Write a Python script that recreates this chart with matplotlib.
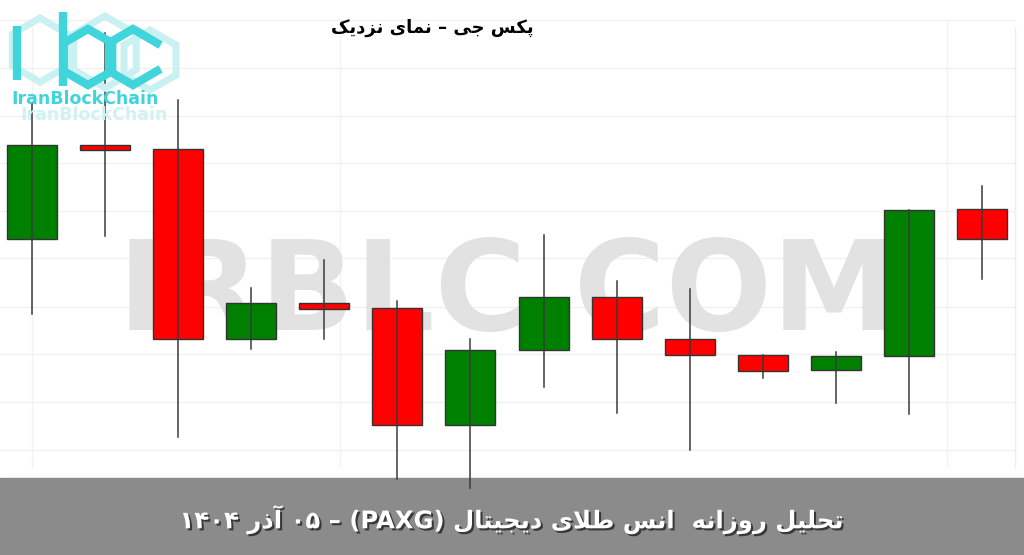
"""پکس جی – نمای نزدیک: روزانه PAXG candles, IRBLC style."""
import matplotlib
matplotlib.use("Agg")
import matplotlib.pyplot as plt
from matplotlib.patches import Rectangle, RegularPolygon
import matplotlib.patheffects as pe

# OHLC (USD), one candle per day
opens = [4140.25, 4163.75, 4162.75, 4115.25, 4124.25, 4123.0, 4093.75,
         4112.5, 4125.75, 4115.25, 4111.25, 4107.5, 4111.0, 4147.75]
highs = [4174.25, 4191.75, 4175.0, 4128.0, 4135.0, 4124.75, 4115.25,
         4141.25, 4129.75, 4127.75, 4111.25, 4112.0, 4147.5, 4153.5]
lows = [4121.5, 4141.0, 4090.75, 4112.75, 4115.25, 4080.25, 4078.0,
        4103.25, 4096.75, 4087.5, 4105.5, 4099.25, 4096.5, 4130.25]
closes = [4163.75, 4162.5, 4115.25, 4124.25, 4122.75, 4093.75, 4112.5,
          4125.75, 4115.25, 4111.25, 4107.25, 4111.0, 4147.5, 4140.25]

TITLE = "پکس جی – نمای نزدیک"
BANNER = "تحلیل روزانه  انس طلای دیجیتال (PAXG) – ۰۵ آذر ۱۴۰۴"
WATERMARK = "IRBLC.COM"
LOGO_TEXT = "IranBlockChain"

# --- minimal Persian shaping (matplotlib has no RTL / joining support) ---
# char: (isolated, final, initial, medial); 2-tuple = joins to the right only
FORMS = {
    "ا": ("\uFE8D", "\uFE8E"), "آ": ("\uFE81", "\uFE82"),
    "د": ("\uFEA9", "\uFEAA"), "ذ": ("\uFEAB", "\uFEAC"),
    "ر": ("\uFEAD", "\uFEAE"), "ز": ("\uFEAF", "\uFEB0"),
    "و": ("\uFEED", "\uFEEE"),
    "پ": ("\uFB56", "\uFB57", "\uFB58", "\uFB59"),
    "ت": ("\uFE95", "\uFE96", "\uFE97", "\uFE98"),
    "ج": ("\uFE9D", "\uFE9E", "\uFE9F", "\uFEA0"),
    "ح": ("\uFEA1", "\uFEA2", "\uFEA3", "\uFEA4"),
    "س": ("\uFEB1", "\uFEB2", "\uFEB3", "\uFEB4"),
    "ط": ("\uFEC1", "\uFEC2", "\uFEC3", "\uFEC4"),
    "ک": ("\uFB8E", "\uFB8F", "\uFB90", "\uFB91"),
    "ل": ("\uFEDD", "\uFEDE", "\uFEDF", "\uFEE0"),
    "م": ("\uFEE1", "\uFEE2", "\uFEE3", "\uFEE4"),
    "ن": ("\uFEE5", "\uFEE6", "\uFEE7", "\uFEE8"),
    "ه": ("\uFEE9", "\uFEEA", "\uFEEB", "\uFEEC"),
    "ی": ("\uFBFC", "\uFBFD", "\uFBFE", "\uFBFF"),
}


def _shape_word(w):
    # lam-alef ligature first
    chars = []
    i = 0
    while i < len(w):
        if w[i] == "ل" and i + 1 < len(w) and w[i + 1] == "ا":
            chars.append("LA")
            i += 2
        else:
            chars.append(w[i])
            i += 1
    out = []
    for k, c in enumerate(chars):
        prev = chars[k - 1] if k > 0 else None
        nxt = chars[k + 1] if k + 1 < len(chars) else None
        join_prev = prev is not None and prev in FORMS and len(FORMS[prev]) == 4
        if c == "LA":
            out.append("\uFEFC" if join_prev else "\uFEFB")
            continue
        if c not in FORMS:
            out.append(c)
            continue
        f = FORMS[c]
        join_next = len(f) == 4 and (nxt == "LA" or nxt in FORMS)
        if join_prev and join_next:
            out.append(f[3])
        elif join_prev:
            out.append(f[1])
        elif join_next:
            out.append(f[2])
        else:
            out.append(f[0])
    return "".join(out)


def rtl(s):
    toks = []
    for t in s.split(" "):
        if any("\u0600" <= ch <= "\u06EF" for ch in t):
            toks.append(_shape_word(t)[::-1])
        else:
            toks.append(t)
    return " ".join(toks[::-1])


W, H = 1024, 555
fig = plt.figure(figsize=(W / 100, H / 100), dpi=100)
fig.patch.set_facecolor("white")

# bottom banner (behind chart so the long wicks poke into it)
bg = fig.add_axes([0, 0, 1, 1])
bg.set_xlim(0, W)
bg.set_ylim(H, 0)
bg.axis("off")
bg.add_patch(Rectangle((0, 478), W, H - 478, color="#8b8b8b", zorder=1))

ax = fig.add_axes([0, 0, 1, 1], zorder=2)
ax.patch.set_alpha(0)
x = list(range(len(opens)))
ax.set_xlim(-0.438, 13.574)
ax.set_ylim(4061.25, 4200.0)
for s in ax.spines.values():
    s.set_visible(False)
ax.set_xticks([])
ax.set_yticks([])

# faint grid (kept above the banner)
ax.hlines([4195, 4183, 4171, 4159.25, 4147.25, 4135.5, 4123.25, 4111.5, 4099.5, 4087.5],
          -0.438, 13.45, color="#f1f1f1", lw=1, zorder=0)
ax.vlines([0, 4.21, 12.52], 4083, 4195, color="#f3f3f3", lw=1, zorder=0)
ax.vlines([13.45], 4083, 4193, color="#eeeeee", lw=1, zorder=0)

# watermark
ax.text(6.5, 4117.5, WATERMARK, ha="center", va="baseline", fontsize=90,
        fontweight="bold", family="DejaVu Sans", color="#e2e2e2", zorder=1)

body_w = 0.684
for xi, o, h, l, c in zip(x, opens, highs, lows, closes):
    col = "#008000" if c >= o else "#ff0000"
    lo, hi = min(o, c), max(o, c)
    ax.add_patch(Rectangle((xi - body_w / 2, lo), body_w, max(hi - lo, 0.3),
                           facecolor=col, edgecolor="#333333", lw=1, zorder=3))
    ax.plot([xi, xi], [l, h], color="#3a3a3a", lw=1.1, zorder=4)

# title
fig.text(432 / W, 1 - 28 / H, rtl(TITLE), ha="center", va="center",
         fontsize=13, fontweight="bold", family="DejaVu Sans", color="black")

# banner text
fig.text(511 / W, 1 - 520 / H, rtl(BANNER), ha="center", va="center",
         fontsize=17.5, fontweight="bold", family="DejaVu Sans", color="white",
         path_effects=[pe.withSimplePatchShadow(offset=(1.5, -1.5),
                                                shadow_rgbFace="#2a2a2a", alpha=0.85)])

# logo (top left)
lg = fig.add_axes([0, 0, 1, 1], zorder=5)
lg.set_xlim(0, W)
lg.set_ylim(H, 0)
lg.axis("off")
light, cyan = "#c9f1f2", "#3fd5da"
for cx, cy, r in [(40, 50, 32), (105, 52, 36), (150, 60, 30)]:
    lg.add_patch(RegularPolygon((cx, cy), 6, radius=r, orientation=0,
                                fill=False, ec=light, lw=5, zorder=1))
lg.plot([17, 17], [26, 80], color=cyan, lw=6, solid_capstyle="butt", zorder=2)
lg.plot([63, 63], [12, 86], color=cyan, lw=6, solid_capstyle="butt", zorder=2)
lg.add_patch(RegularPolygon((88, 57), 6, radius=28, orientation=0,
                            fill=False, ec=cyan, lw=6, zorder=2))
lg.plot([157, 133, 109, 109, 133, 157], [43, 29, 43, 71, 85, 71],
        color=cyan, lw=6, solid_joinstyle="miter", zorder=2)
lg.text(20, 115, LOGO_TEXT, fontsize=12.5, fontweight="bold", color="#d0f2f3",
        family="DejaVu Sans", va="center", ha="left", zorder=1)
lg.text(11, 99, LOGO_TEXT, fontsize=12.5, fontweight="bold", color=cyan,
        family="DejaVu Sans", va="center", ha="left", zorder=2)

fig.savefig("out.png", dpi=100)
